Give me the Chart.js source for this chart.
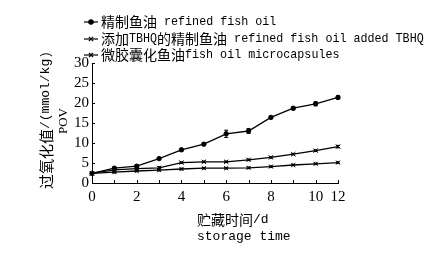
<!DOCTYPE html>
<html>
<head>
    <meta charset="utf-8">
    <title>POV storage chart</title>
    <script src="https://cdn.jsdelivr.net/npm/chart.js"></script>
    <style>
        body { margin: 0; background: #fff; }
    </style>
</head>
<body>
    <canvas id="povChart" width="433" height="256"></canvas>

    <script>
        // x positions (one per sampling point) and the labels shown under them
        const xTickLabels = ['0', '', '2', '', '4', '', '6', '', '8', '', '10', '12'];
        const yTicks = { min: 0, max: 30, step: 5 };

        const seriesNames = [
            '精制鱼油 refined fish oil',
            '添加TBHQ的精制鱼油 refined fish oil added TBHQ',
            '微胶囊化鱼油fish oil microcapsules'
        ];
        const refinedOil = [2.4, 3.7, 4.2, 6.1, 8.3, 9.7, 12.3, 13.0, 16.4, 18.7, 19.8, 21.4];
        const refinedErr = [0.2, 0.3, 0.3, 0.2, 0.3, 0.3, 0.9, 0.6, 0.3, 0.4, 0.5, 0.4];
        const tbhqOil = [2.4, 3.3, 3.6, 3.8, 5.1, 5.3, 5.3, 5.8, 6.4, 7.2, 8.1, 9.1];
        const tbhqErr = [0.2, 0.3, 0.3, 0.3, 0.2, 0.2, 0.2, 0.2, 0.2, 0.2, 0.2, 0.3];
        const microcaps = [2.4, 2.7, 3.0, 3.2, 3.5, 3.7, 3.7, 3.8, 4.1, 4.5, 4.8, 5.1];
        const microErr = [0.2, 0.2, 0.2, 0.2, 0.2, 0.2, 0.2, 0.2, 0.2, 0.2, 0.2, 0.2];

        const CJK = "'Noto Sans CJK SC'";
        const MONO = "'Liberation Mono'";

        // draws text made of chinese and latin runs, each with its own font
        function drawMixed(ctx, text, x, y, cjkSize, latinSize, latinScale) {
            const runs = text.match(/[\u3000-\u9fff]+|[^\u3000-\u9fff]+/g) || [];
            ctx.textBaseline = 'middle';
            ctx.textAlign = 'left';
            let cx = x;
            runs.forEach(run => {
                if (/[\u3000-\u9fff]/.test(run)) {
                    ctx.font = cjkSize + 'px ' + CJK;
                    ctx.fillText(run, cx, y);
                    cx += ctx.measureText(run).width;
                } else {
                    ctx.font = latinSize + 'px ' + MONO;
                    const w = ctx.measureText(run).width * latinScale;
                    ctx.save();
                    ctx.translate(cx, y);
                    ctx.scale(latinScale, 1);
                    ctx.fillText(run, 0, 0);
                    ctx.restore();
                    cx += w;
                }
            });
            return cx - x;
        }

        function measureMixed(ctx, text, cjkSize, latinSize, latinScale) {
            const runs = text.match(/[\u3000-\u9fff]+|[^\u3000-\u9fff]+/g) || [];
            let w = 0;
            runs.forEach(run => {
                if (/[\u3000-\u9fff]/.test(run)) {
                    ctx.font = cjkSize + 'px ' + CJK;
                    w += ctx.measureText(run).width;
                } else {
                    ctx.font = latinSize + 'px ' + MONO;
                    w += ctx.measureText(run).width * latinScale;
                }
            });
            return w;
        }

        const errorBars = [refinedErr, tbhqErr, microErr];

        // error bars, inward tick marks, legend and axis titles
        const decorPlugin = {
            id: 'decor',
            afterDatasetsDraw(chart) {
                const ctx = chart.ctx;
                const xs = chart.scales.x;
                const ys = chart.scales.y;
                ctx.save();
                ctx.strokeStyle = '#000';
                ctx.lineWidth = 1;

                chart.data.datasets.forEach((ds, i) => {
                    const errs = errorBars[i];
                    ds.data.forEach((v, j) => {
                        const px = xs.getPixelForValue(j);
                        const top = ys.getPixelForValue(v + errs[j]);
                        const bot = ys.getPixelForValue(v - errs[j]);
                        ctx.beginPath();
                        ctx.moveTo(px, top); ctx.lineTo(px, bot);
                        ctx.moveTo(px - 2, top); ctx.lineTo(px + 2, top);
                        ctx.moveTo(px - 2, bot); ctx.lineTo(px + 2, bot);
                        ctx.stroke();
                    });
                });

                const area = chart.chartArea;
                xs.ticks.forEach((t, j) => {
                    const px = Math.round(xs.getPixelForTick(j)) + 0.5;
                    ctx.beginPath();
                    ctx.moveTo(px, area.bottom);
                    ctx.lineTo(px, area.bottom - 3);
                    ctx.stroke();
                });
                ys.ticks.forEach((t, j) => {
                    const py = Math.round(ys.getPixelForTick(j)) + 0.5;
                    ctx.beginPath();
                    ctx.moveTo(area.left, py);
                    ctx.lineTo(area.left + 3, py);
                    ctx.stroke();
                });
                ctx.restore();
            },
            afterDraw(chart) {
                const ctx = chart.ctx;
                ctx.save();
                ctx.fillStyle = '#000';
                ctx.strokeStyle = '#000';

                // legend, one entry per line
                const rows = [22, 39, 55];
                chart.data.datasets.forEach((ds, i) => {
                    const y = rows[i];
                    ctx.lineWidth = 1.2;
                    ctx.beginPath();
                    ctx.moveTo(84, y); ctx.lineTo(98, y);
                    ctx.stroke();
                    ctx.beginPath();
                    Chart.helpers.drawPoint(ctx, {
                        pointStyle: ds.pointStyle,
                        radius: ds.pointRadius,
                        rotation: 0,
                        borderWidth: 1
                    }, 91, y);
                    drawMixed(ctx, ds.label, 101, y, 14, 13, 0.9);
                });

                // x axis title, two lines
                drawMixed(ctx, '贮藏时间/d', 197, 220, 14, 13, 1);
                drawMixed(ctx, 'storage time', 197, 237, 14, 13, 1);

                // y axis title, rotated
                const yTitle = '过氧化值/(mmol/kg)';
                const w = measureMixed(ctx, yTitle, 15, 13, 1);
                ctx.save();
                ctx.translate(46, 120);
                ctx.rotate(-Math.PI / 2);
                drawMixed(ctx, yTitle, -w / 2, 0, 15, 13, 1);
                ctx.restore();

                ctx.save();
                ctx.translate(64, 121);
                ctx.rotate(-Math.PI / 2);
                ctx.font = "13px 'Liberation Serif'";
                ctx.textAlign = 'center';
                ctx.textBaseline = 'middle';
                ctx.fillText('POV', 0, 0);
                ctx.restore();

                ctx.restore();
            }
        };

        const lineDefaults = {
            borderColor: '#000',
            backgroundColor: '#000',
            pointBorderColor: '#000',
            borderWidth: 1.3,
            pointBorderWidth: 1,
            tension: 0
        };

        const ctx = document.getElementById('povChart').getContext('2d');
        const chart = new Chart(ctx, {
            type: 'line',
            data: {
                labels: xTickLabels,
                datasets: [
                    Object.assign({ label: seriesNames[0], data: refinedOil, pointStyle: 'circle', pointRadius: 2.2, pointBackgroundColor: '#000' }, lineDefaults),
                    Object.assign({ label: seriesNames[1], data: tbhqOil, pointStyle: 'crossRot', pointRadius: 3, pointBackgroundColor: '#000' }, lineDefaults),
                    Object.assign({ label: seriesNames[2], data: microcaps, pointStyle: 'crossRot', pointRadius: 2.8, pointBackgroundColor: '#000' }, lineDefaults)
                ]
            },
            options: {
                responsive: false,
                animation: false,
                layout: { padding: { top: 63, right: 95, left: 0, bottom: 0 } },
                plugins: {
                    legend: { display: false },
                    tooltip: { enabled: false }
                },
                scales: {
                    x: {
                        type: 'category',
                        offset: false,
                        grid: { display: false, drawTicks: false },
                        border: { display: true, color: '#000', width: 1 },
                        ticks: {
                            autoSkip: false,
                            maxRotation: 0,
                            padding: 5,
                            color: '#000',
                            font: { family: "'Liberation Serif'", size: 15 }
                        },
                        afterFit(scale) { scale.height = 73; }
                    },
                    y: {
                        min: yTicks.min,
                        max: yTicks.max,
                        grid: { display: false, drawTicks: false },
                        border: { display: true, color: '#000', width: 1 },
                        ticks: {
                            autoSkip: false,
                            stepSize: yTicks.step,
                            padding: 3,
                            color: '#000',
                            font: { family: "'Liberation Serif'", size: 15 }
                        },
                        afterFit(scale) { scale.width = 92; }
                    }
                }
            },
            plugins: [decorPlugin]
        });
    </script>
</body>
</html>
